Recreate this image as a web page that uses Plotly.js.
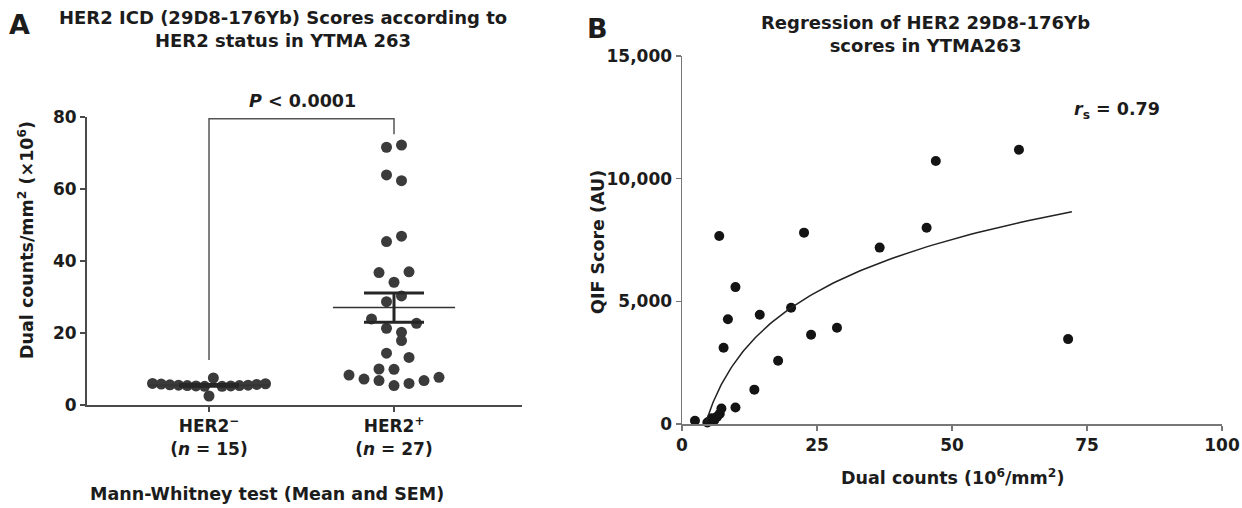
<!DOCTYPE html>
<html>
<head>
<meta charset="utf-8">
<script src="https://cdn.plot.ly/plotly-3.0.1.min.js"></script>
<style>html,body{margin:0;padding:0;background:#fff;}#chart{width:1242px;height:508px;}</style>
</head>
<body>
<div id="chart"></div>
<script>
// ---------- Panel A data (dual counts/mm², ×10^6) ----------
const groupLabels = ["HER2<sup>−</sup><br>(<i>n</i> = 15)", "HER2<sup>+</sup><br>(<i>n</i> = 27)"];
const her2Neg = [6.0, 5.8, 5.6, 5.5, 5.4, 5.3, 5.2, 7.5, 2.5, 5.2, 5.3, 5.4, 5.5, 5.7, 5.9];
const her2Pos = [71.6, 72.2, 63.9, 62.3, 45.4, 46.9, 36.8, 34.1, 37.0, 28.7, 30.3, 23.9, 21.3, 20.2, 22.7,
                 14.4, 17.9, 10.0, 9.9, 13.2, 8.3, 7.2, 6.8, 5.4, 6.0, 6.8, 7.7];
const yTicksA = [0, 20, 40, 60, 80];
const pText = "<i>P</i> < 0.0001";

// ---------- Panel B data ----------
const dualCounts = [2.4, 4.7, 5.1, 5.5, 6.0, 6.5, 7.0, 7.3, 9.9, 13.4, 7.7, 17.8, 8.5, 14.4, 20.2,
                    28.7, 23.9, 9.9, 36.6, 45.3, 22.6, 6.9, 47.0, 62.4, 71.5];
const qifScores  = [130, 60, 110, 230, 160, 300, 420, 630, 670, 1400, 3110, 2580, 4270, 4450, 4740,
                    3920, 3640, 5580, 7190, 8000, 7800, 7660, 10720, 11180, 3460];
// semi-log regression: y = FIT_A + FIT_B * ln(x), drawn over [FIT_X0, FIT_X1]
const FIT_A = -4491, FIT_B = 3071, FIT_X0 = 4.4, FIT_X1 = 72.2;
const xTicksB = [0, 25, 50, 75, 100];
const yTicksB = [0, 5000, 10000, 15000];
const rsText = "<i>r</i><sub>s</sub> = 0.79";

// ---------- Layout geometry (pixels) ----------
const W = 1242, H = 508;
const FONT = "DejaVu Sans, Liberation Sans, Arial, sans-serif";
const INK = "#1c1c1c";
const A_L = 87, A_R = 522, A_T = 117, A_B = 405;
const B_L = 682, B_R = 1222, B_T = 56, B_B = 424;
const A_X0 = -0.6595, A_X1 = 1.6918;
const A_YMAX = 80;
const DOT = 11;
const ROW_PX = 14.5, STEP_PX = 15, MAXW_PX = 113;

const pxPerUnitX = (A_R - A_L) / (A_X1 - A_X0);
const pxPerUnitY = (A_B - A_T) / A_YMAX;

// Scatter-dot (swarm) layout: group close values into rows and spread them symmetrically
function swarm(vals, center) {
  const idx = vals.map((v, i) => i).sort((a, b) => vals[b] - vals[a]);
  const rows = [];
  let cur = null;
  idx.forEach(i => {
    if (!cur || (cur.top - vals[i]) * pxPerUnitY > ROW_PX) { cur = {top: vals[i], members: []}; rows.push(cur); }
    cur.members.push(i);
  });
  const xs = new Array(vals.length);
  rows.forEach(r => {
    const m = r.members.slice().sort((a, b) => a - b);
    const n = m.length;
    const sp = n > 1 ? Math.min(STEP_PX, MAXW_PX / (n - 1)) : 0;
    m.forEach((i, k) => { xs[i] = center + ((k - (n - 1) / 2) * sp) / pxPerUnitX; });
  });
  return xs;
}
const mean = a => a.reduce((s, v) => s + v, 0) / a.length;
const sem = a => { const m = mean(a); return Math.sqrt(a.reduce((s, v) => s + (v - m) ** 2, 0) / (a.length - 1)) / Math.sqrt(a.length); };

const groups = [her2Neg, her2Pos];
const traces = [];
const MEAN_HALF = 0.33;
groups.forEach((vals, g) => {
  traces.push({x: swarm(vals, g), y: vals, type: "scatter", mode: "markers", xaxis: "x", yaxis: "y",
    marker: {size: DOT, color: "#3b3b3b"}, cliponaxis: false, hoverinfo: "y"});
});
groups.forEach((vals, g) => {
  const m = mean(vals);
  traces.push({x: [g - MEAN_HALF, g + MEAN_HALF], y: [m, m], type: "scatter", mode: "lines", xaxis: "x", yaxis: "y",
    line: {color: "#333", width: 1.6}, cliponaxis: false, hoverinfo: "skip"});
  traces.push({x: [g], y: [m], type: "scatter", mode: "markers", xaxis: "x", yaxis: "y",
    marker: {size: 1, opacity: 0}, cliponaxis: false, hoverinfo: "skip",
    error_y: {type: "data", array: [sem(vals)], visible: true, width: 30, thickness: 3, color: "#262626"}});
});
// significance bracket
const BRACKET_Y = 79.5;
traces.push({x: [0, 0, 1, 1], y: [Math.max(...her2Neg) + 5, BRACKET_Y, BRACKET_Y, Math.max(...her2Pos) + 3],
  type: "scatter", mode: "lines", xaxis: "x", yaxis: "y", line: {color: "#555", width: 1.5},
  cliponaxis: false, hoverinfo: "skip"});

// Panel B
traces.push({x: dualCounts, y: qifScores, type: "scatter", mode: "markers", xaxis: "x2", yaxis: "y2",
  marker: {size: 10, color: "#141414"}, cliponaxis: false});
const fitX = [], fitY = [];
for (let k = 0; k <= 120; k++) {
  const x = FIT_X0 * Math.pow(FIT_X1 / FIT_X0, k / 120);
  fitX.push(x); fitY.push(FIT_A + FIT_B * Math.log(x));
}
traces.push({x: fitX, y: fitY, type: "scatter", mode: "lines", xaxis: "x2", yaxis: "y2",
  line: {color: "#222", width: 1.5}, cliponaxis: false, hoverinfo: "skip"});

const tickFont = {family: FONT, size: 17, color: INK, weight: "bold"};
const axA = {showgrid: false, zeroline: false, showline: true, linecolor: "#4a4a4a", linewidth: 2,
  ticks: "outside", ticklen: 5, tickwidth: 1.5, tickcolor: "#4a4a4a", tickfont: tickFont, fixedrange: true};
const axB = {showgrid: false, zeroline: false, showline: true, linecolor: "#777", linewidth: 1.5,
  ticks: "outside", ticklen: 5, tickwidth: 1.2, tickcolor: "#777", tickfont: tickFont, fixedrange: true};

const px = p => p / W, py = p => 1 - p / H;
const ann = (text, x, y, size, extra) => Object.assign({text, x: px(x), y: py(y), xref: "paper", yref: "paper",
  showarrow: false, font: {family: FONT, size, color: INK, weight: "bold"}, xanchor: "center", yanchor: "middle"}, extra || {});

const layout = {
  width: W, height: H, margin: {l: 0, r: 0, t: 0, b: 0}, paper_bgcolor: "#fff", plot_bgcolor: "rgba(0,0,0,0)",
  showlegend: false, font: {family: FONT, color: INK},
  xaxis: Object.assign({}, axA, {domain: [px(A_L), px(A_R)], range: [A_X0, A_X1], tickvals: [0, 1], ticktext: groupLabels, anchor: "y"}),
  yaxis: Object.assign({}, axA, {domain: [py(A_B), py(A_T)], range: [0, A_YMAX], tickvals: yTicksA, anchor: "x"}),
  xaxis2: Object.assign({}, axB, {domain: [px(B_L), px(B_R)], range: [0, 100], tickvals: xTicksB, anchor: "y2"}),
  yaxis2: Object.assign({}, axB, {domain: [py(B_B), py(B_T)], range: [0, 15000], tickvals: yTicksB, tickformat: ",d", anchor: "x2"}),
  annotations: [
    ann("A", 19, 24, 27),
    ann("B", 597, 28, 27),
    ann("HER2 ICD (29D8-176Yb) Scores according to<br>HER2 status in YTMA 263", 283, 29, 18),
    ann("Regression of HER2 29D8-176Yb<br>scores in YTMA263", 925, 34, 18),
    ann(pText, 302, 101, 17.5),
    ann("Dual counts/mm<sup>2</sup> (×10<sup>6</sup>)", 26, 240, 17.5, {textangle: -90}),
    ann("Mann-Whitney test (Mean and SEM)", 88, 494, 17.5, {xanchor: "left"}),
    ann("QIF Score (AU)", 598, 242, 17.5, {textangle: -90}),
    ann("Dual counts (10<sup>6</sup>/mm<sup>2</sup>)", 952, 477, 17.5),
    ann(rsText, 1117, 110, 17.5)
  ]
};
Plotly.newPlot("chart", traces, layout, {staticPlot: true, displayModeBar: false});
</script>
</body>
</html>
